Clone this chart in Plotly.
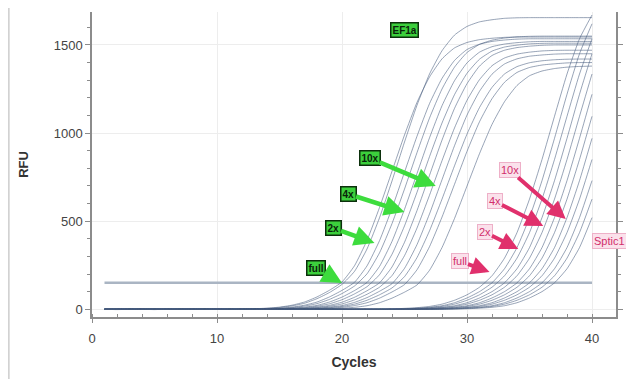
import plotly.graph_objects as go

CYCLES = list(range(1, 41))
THRESHOLD = 150
THRESHOLD_CYCLES = [1, 40]

# EF1a amplification curves (RFU per cycle)
EF1A_1 = [2,-1,1,0,-2,1,0,-1,1,0, 0,1,3,6,12,23,41,70,108,155,
          247,391,577,783,989,1174,1318,1421,1483,1514, 1530,1538,1543,1545,1545,1545,1545,1545,1545,1545]
EF1A_2 = [0,1,-1,2,0,-1,1,0,0,1, 0,1,2,5,10,19,34,60,95,141,
          215,342,519,728,949,1158,1335,1467,1556,1605, 1631,1643,1651,1654,1655,1655,1655,1655,1655,1655]
EF1A_3 = [-1,0,1,0,1,0,-1,0,1,0, 0,0,1,3,6,12,23,41,70,107,
          153,246,389,573,778,982,1167,1310,1412,1474, 1504,1520,1528,1533,1535,1535,1535,1535,1535,1535]
EF1A_4 = [1,0,0,-1,0,2,0,-1,0,0, 0,0,1,2,5,9,18,32,56,89,
          132,201,320,486,682,889,1085,1250,1374,1457, 1503,1527,1539,1546,1549,1550,1550,1550,1550,1550]
EF1A_5 = [0,-2,0,1,0,0,1,0,-1,0, 0,0,0,1,3,6,12,22,41,69,
          106,152,243,385,567,770,973,1155,1297,1398, 1459,1490,1505,1513,1518,1520,1520,1520,1520,1520]
EF1A_6 = [1,0,-1,0,0,1,0,0,1,-1, 0,0,0,1,2,5,9,17,31,54,
          87,128,196,312,473,664,866,1057,1218,1339, 1419,1465,1488,1499,1506,1509,1510,1510,1510,1510]
EF1A_7 = [0,0,1,0,-1,0,0,1,0,0, 0,0,0,0,1,3,6,12,22,40,
          68,105,150,240,380,560,760,960,1140,1280, 1380,1440,1470,1485,1493,1498,1500,1500,1500,1500]
EF1A_8 = [-1,1,0,0,1,0,-1,0,0,1, 0,0,0,0,1,2,4,9,17,30,
          53,85,125,191,304,461,647,843,1029,1186, 1303,1382,1426,1448,1459,1466,1469,1470,1470,1470]
EF1A_9 = [0,0,0,1,0,-1,0,1,0,0, 0,0,0,0,0,1,3,6,12,21,
          39,66,102,145,232,367,541,735,928,1102, 1237,1334,1392,1421,1436,1443,1448,1450,1450,1450]
EF1A_10 = [1,0,0,0,-1,0,1,0,0,0, 0,0,0,0,0,1,2,4,9,16,
           29,51,82,121,185,293,445,625,814,994, 1145,1259,1335,1377,1399,1410,1416,1419,1420,1420]
EF1A_11 = [0,1,0,0,0,0,-1,0,1,0, 0,0,0,0,0,0,1,3,6,11,
           21,37,63,98,140,224,355,523,709,896, 1064,1195,1288,1344,1372,1386,1393,1398,1400,1400]
EF1A_12 = [0,0,-1,0,1,0,0,0,0,1, 0,0,0,0,0,0,0,1,3,6,
           11,20,37,63,97,138,221,350,515,699, 883,1049,1178,1270,1325,1352,1366,1374,1378,1380]

# Sptic1 amplification curves
SPTIC1_1 = [1,0,-1,0,0,1,0,0,-1,0, 0,1,0,0,-1,0,0,1,0,0,
            0,0,1,2,5,9,16,29,51,82, 125,190,290,435,625,850,1095,1335,1535,1670]
SPTIC1_2 = [0,-1,0,1,0,0,-1,0,1,0, 0,0,1,0,0,-1,0,0,1,0,
            0,0,0,1,3,6,11,20,37,64, 100,150,230,350,520,730,970,1220,1450,1620]
SPTIC1_3 = [0,0,1,0,-1,0,0,1,0,0, -1,0,0,1,0,0,0,-1,0,0,
            0,0,0,1,2,5,9,16,29,51, 82,125,190,290,435,625,850,1095,1335,1535]
SPTIC1_4 = [-1,0,0,0,1,0,1,0,0,-1, 0,0,1,0,0,0,1,0,0,0,
            0,0,0,0,1,3,6,11,20,37, 64,100,150,230,350,520,730,970,1220,1450]
SPTIC1_5 = [0,1,0,-1,0,0,0,0,1,0, 0,-1,0,0,1,0,0,0,-1,0,
            0,0,0,0,1,2,5,9,16,29, 51,82,125,190,290,435,625,850,1095,1335]
SPTIC1_6 = [1,0,0,1,0,-1,0,0,0,1, 0,0,-1,0,0,1,0,0,0,0,
            0,0,0,0,0,1,3,6,11,20, 37,64,100,150,230,350,520,730,970,1220]
SPTIC1_7 = [0,0,-1,0,0,1,0,1,0,0, 1,0,0,0,-1,0,0,1,0,0,
            0,0,0,0,0,1,2,5,9,16, 29,51,82,125,190,290,435,625,850,1095]
SPTIC1_8 = [0,1,0,0,-1,0,0,0,1,0, 0,0,1,0,0,0,-1,0,0,1,
            0,0,0,0,0,0,1,3,6,11, 20,37,64,100,150,230,350,520,730,970]
SPTIC1_9 = [-1,0,1,0,0,0,1,0,0,0, -1,0,0,0,1,0,0,0,0,-1,
            0,0,0,0,0,0,1,2,5,9, 16,29,51,82,125,190,290,435,625,850]
SPTIC1_10 = [0,0,0,1,0,0,-1,0,0,1, 0,1,0,0,0,-1,0,1,0,0,
             0,0,0,0,0,0,0,1,3,6, 11,20,37,64,100,150,230,350,520,730]
SPTIC1_11 = [1,0,0,0,0,-1,0,1,0,0, 0,0,0,-1,0,0,1,0,0,0,
             0,0,0,0,0,0,0,1,2,5, 9,16,29,51,82,125,190,290,435,625]
SPTIC1_12 = [0,-1,0,0,1,0,0,0,-1,0, 1,0,0,0,0,1,0,-1,0,0,
             0,0,0,0,0,0,0,0,1,3, 6,11,20,37,64,100,150,230,350,520]

EF1A_SERIES = [EF1A_1, EF1A_2, EF1A_3, EF1A_4, EF1A_5, EF1A_6,
               EF1A_7, EF1A_8, EF1A_9, EF1A_10, EF1A_11, EF1A_12]
SPTIC1_SERIES = [SPTIC1_1, SPTIC1_2, SPTIC1_3, SPTIC1_4, SPTIC1_5, SPTIC1_6,
                 SPTIC1_7, SPTIC1_8, SPTIC1_9, SPTIC1_10, SPTIC1_11, SPTIC1_12]

# Labels: (label x, label y) and arrow tip (x, y)
GREEN_LABELS = ["10x", "4x", "2x", "full"]
GREEN_LABEL_POS = [(22.2, 858), (20.5, 654), (19.3, 461), (17.9, 234)]
GREEN_TIPS = [(27.5, 700), (25.0, 552), (22.6, 376), (20.0, 149)]
PINK_LABELS = ["10x", "4x", "2x", "full"]
PINK_LABEL_POS = [(33.4, 790), (32.2, 614), (31.4, 438), (29.4, 274)]
PINK_TIPS = [(37.9, 512), (36.1, 472), (34.1, 342), (31.8, 212)]
EF1A_TITLE_POS = (25.0, 1586)
SPTIC1_TITLE_POS = (41.4, 387)

LINE_COLOR = "rgba(70,92,125,0.7)"
FONT = "Liberation Sans, Arial, sans-serif"

fig = go.Figure()

fig.add_trace(go.Scatter(
    x=THRESHOLD_CYCLES, y=[THRESHOLD, THRESHOLD], mode="lines",
    line=dict(color="#aab5c3", width=2.5), hoverinfo="skip", showlegend=False))

for s in EF1A_SERIES + SPTIC1_SERIES:
    fig.add_trace(go.Scatter(
        x=CYCLES, y=s, mode="lines",
        line=dict(color=LINE_COLOR, width=0.8, shape="spline", smoothing=0.5),
        hoverinfo="skip", showlegend=False))

annotations = []
green_style = dict(font=dict(family=FONT, size=10, color="#0a240a"),
                   bgcolor="#3ccf3c", bordercolor="#0c300c", borderwidth=1.5, borderpad=1)
pink_style = dict(font=dict(family=FONT, size=11, color="#d12f6b"),
                  bgcolor="#fbe1eb", bordercolor="#eeb0c8", borderwidth=1, borderpad=1)

annotations.append(dict(x=EF1A_TITLE_POS[0], y=EF1A_TITLE_POS[1], xref="x", yref="y",
                        text="<b>EF1a</b>", showarrow=False, **green_style))
annotations.append(dict(x=SPTIC1_TITLE_POS[0], y=SPTIC1_TITLE_POS[1], xref="x", yref="y",
                        text="Sptic1", showarrow=False, **pink_style))

for t, (lx, ly), (tx, ty) in zip(GREEN_LABELS, GREEN_LABEL_POS, GREEN_TIPS):
    annotations.append(dict(x=tx, y=ty, xref="x", yref="y", ax=lx, ay=ly, axref="x", ayref="y",
                            text=f"<b>{t}</b>", showarrow=True, arrowhead=2, arrowsize=0.9,
                            arrowwidth=4.5, arrowcolor="#3ddc3d", **green_style))
for t, (lx, ly), (tx, ty) in zip(PINK_LABELS, PINK_LABEL_POS, PINK_TIPS):
    annotations.append(dict(x=tx, y=ty, xref="x", yref="y", ax=lx, ay=ly, axref="x", ayref="y",
                            text=t, showarrow=True, arrowhead=2, arrowsize=0.9,
                            arrowwidth=4, arrowcolor="#e0306c", **pink_style))

fig.update_layout(
    width=626, height=371,
    margin=dict(l=84, r=18, t=4, b=62),
    paper_bgcolor="white", plot_bgcolor="white",
    font=dict(family=FONT, size=13, color="#333333"),
    annotations=annotations,
    shapes=[dict(type="line", xref="paper", yref="paper", x0=-0.159, x1=-0.159,
                 y0=-0.21, y1=1.02, line=dict(color="#d2d2d2", width=2))],
)

fig.update_xaxes(
    range=[0, 41.92], tickvals=[0, 10, 20, 30, 40],
    showgrid=True, gridcolor="#ededed", gridwidth=1, zeroline=False,
    showline=True, linecolor="#8c8c8c", linewidth=1.5,
    ticks="outside", ticklen=4, tickcolor="#8c8c8c", ticklabelstandoff=5,
    minor=dict(dtick=2, ticks="inside", ticklen=3, tickcolor="#8c8c8c", showgrid=False),
    tickfont=dict(size=13, color="#444444"),
    title=dict(text="<b>Cycles</b>", font=dict(size=14, color="#333333"), standoff=12),
    automargin=False,
)
fig.update_yaxes(
    range=[-44, 1687], tickvals=[0, 500, 1000, 1500],
    showgrid=True, gridcolor="#ededed", gridwidth=1, zeroline=False,
    showline=True, linecolor="#8c8c8c", linewidth=1.5, mirror="ticks",
    ticks="outside", ticklen=5, tickcolor="#8c8c8c",
    minor=dict(dtick=100, ticks="outside", ticklen=3, tickcolor="#8c8c8c", showgrid=False),
    tickfont=dict(size=13, color="#444444"),
    title=dict(text="<b>RFU</b>", font=dict(size=13, color="#333333"), standoff=22),
    automargin=False,
)

fig.write_html("out.html")
